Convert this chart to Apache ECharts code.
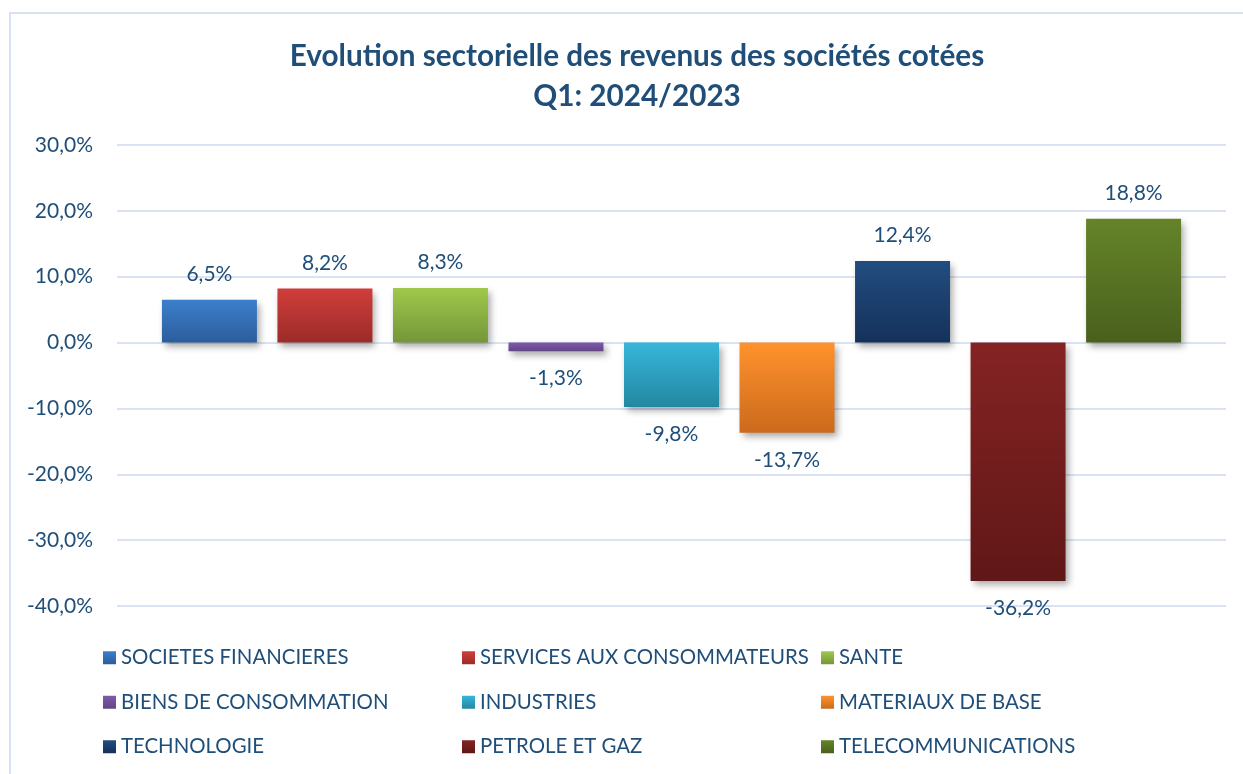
<!DOCTYPE html>
<html>
<head>
<meta charset="utf-8">
<script src="https://cdn.jsdelivr.net/npm/echarts@6/dist/echarts.min.js"></script>
<style>
  html, body { margin: 0; padding: 0; background: #fff; }
  #chart { width: 1243px; height: 774px; }
</style>
</head>
<body>
<div id="chart"></div>
<script>
// secteurs et évolution Q1 2024/2023 (%)
const sectors = [
  'SOCIETES FINANCIERES', 'SERVICES AUX CONSOMMATEURS', 'SANTE',
  'BIENS DE CONSOMMATION', 'INDUSTRIES', 'MATERIAUX DE BASE',
  'TECHNOLOGIE', 'PETROLE ET GAZ', 'TELECOMMUNICATIONS'
];
const values = [6.5, 8.2, 8.3, -1.3, -9.8, -13.7, 12.4, -36.2, 18.8];
const yMin = -40, yMax = 30, yStep = 10;

// couleurs (haut -> bas du dégradé)
const colors = [
  ['#3B7FCC', '#2C5D9B'], ['#D03E3B', '#9B2B29'], ['#9FC94B', '#74963A'],
  ['#8059AB', '#634685'], ['#36B6D9', '#2487A2'], ['#FF922C', '#CB6A1D'],
  ['#224D80', '#15315A'], ['#852323', '#601717'], ['#658429', '#49601D']
];

const textColor = '#1F4E79';
const font = 'Lato, "Liberation Sans", sans-serif';
const fmt = v => v.toFixed(1).replace('.', ',') + '%';

const myChart = echarts.init(document.getElementById('chart'), null, { renderer: 'canvas' });

const series = sectors.map((name, i) => ({
  name,
  type: 'bar',
  data: [values[i]],
  barWidth: 95,
  barGap: '21.6%',
  itemStyle: {
    color: new echarts.graphic.LinearGradient(0, 0, 0, 1, [
      { offset: 0, color: colors[i][0] },
      { offset: 1, color: colors[i][1] }
    ]),
    shadowColor: 'rgba(0,0,0,0.35)',
    shadowBlur: 7,
    shadowOffsetX: 3,
    shadowOffsetY: 4
  },
  label: {
    show: true,
    position: values[i] >= 0 ? 'top' : 'bottom',
    distance: values[i] >= 0 ? 15 : 17,
    formatter: p => fmt(p.value),
    color: textColor,
    fontFamily: font,
    fontSize: 21
  }
}));

// légende en 3 colonnes
const columns = [0, 1, 2].map(c => sectors.filter((s, i) => i % 3 === c));
const legendLeft = [98, 457, 816];

const option = {
  backgroundColor: '#fff',
  animation: false,
  title: {
    text: 'Evolution sectorielle des revenus des sociétés cotées\nQ1: 2024/2023',
    left: 632,
    top: 31,
    textAlign: 'center',
    textStyle: { color: textColor, fontFamily: font, fontWeight: 'bold', fontSize: 29.7, lineHeight: 40 }
  },
  graphic: [{
    type: 'rect',
    shape: { x: 10, y: 13, width: 1300, height: 800 },
    style: { fill: 'none', stroke: '#D6E1F2', lineWidth: 2 },
    silent: true
  }],
  grid: { left: 117, right: 17, top: 145, bottom: 168 },
  legend: columns.map((col, c) => ({
    data: col,
    orient: 'vertical',
    left: legendLeft[c],
    top: 642,
    itemWidth: 13,
    itemHeight: 13,
    itemGap: 23,
    icon: 'rect',
    textStyle: { color: textColor, fontFamily: font, fontSize: 20.4, lineHeight: 21.5 }
  })),
  xAxis: {
    type: 'category',
    data: [''],
    axisLine: { show: false },
    axisTick: { show: false },
    axisLabel: { show: false }
  },
  yAxis: {
    type: 'value',
    min: yMin,
    max: yMax,
    interval: yStep,
    axisLine: { show: false },
    axisTick: { show: false },
    axisLabel: { formatter: v => fmt(v), color: textColor, fontFamily: font, fontSize: 21, margin: 24 },
    splitLine: { lineStyle: { color: '#D9E3F3', width: 2 } }
  },
  series
};

myChart.setOption(option);
</script>
</body>
</html>
